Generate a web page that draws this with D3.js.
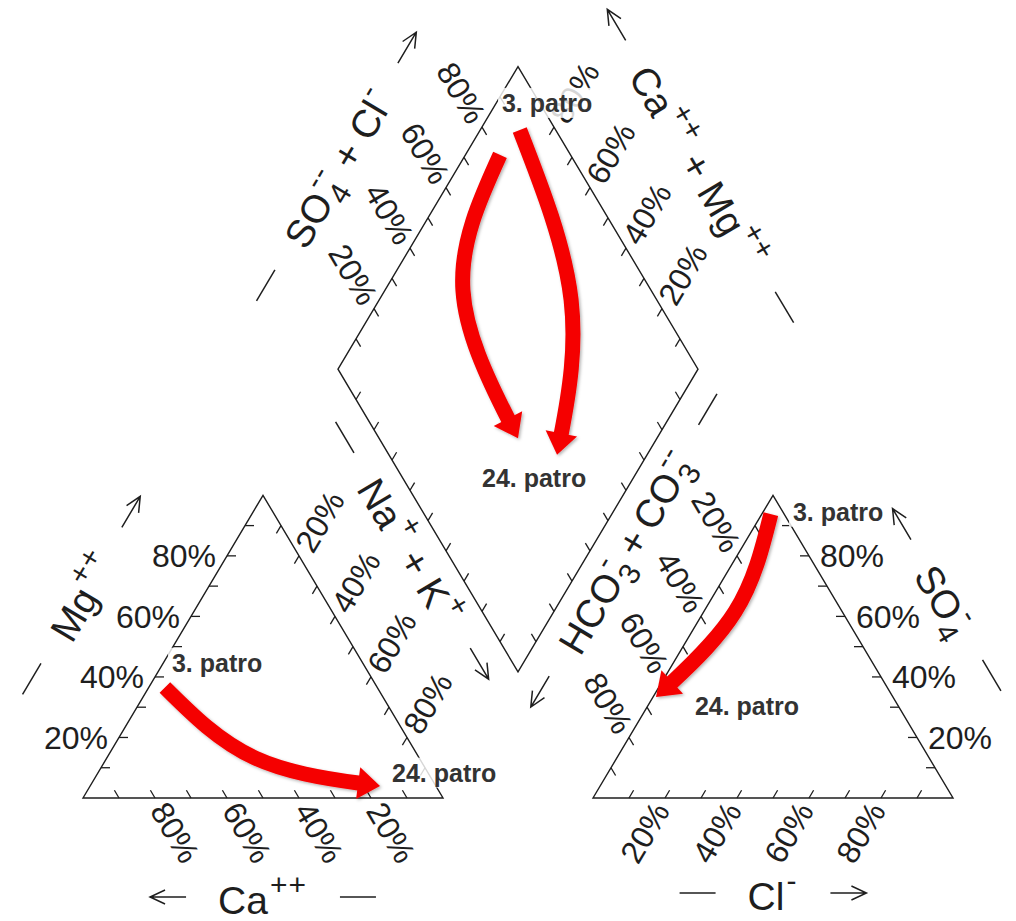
<!DOCTYPE html>
<html>
<head>
<meta charset="utf-8">
<script src="https://cdn.jsdelivr.net/npm/d3@7"></script>
<style>
  html, body { margin: 0; padding: 0; background: #fff; }
  svg { display: block; }
  text { font-family: "Liberation Sans", Arial, sans-serif; }
</style>
</head>
<body>
<svg id="chart" width="1016" height="921"></svg>
<script>
// ---- Data -------------------------------------------------------------
// Grid ticks every 10 %, labelled every 20 %
const tickValues = [10, 20, 30, 40, 50, 60, 70, 80, 90];
const labelValues = [20, 40, 60, 80];
const tickLabels = ["20%", "40%", "60%", "80%"];

// Sampling points
const samples = ["3. patro", "24. patro"];

// Label anchors (percent) in each field
const cationLabelMg = [44.6, 8.3];
const cationLabelNaK = [2.4, 81.7];
const anionLabelSO4 = [94.5, 30.4];
const anionLabelCl = [8.3, 13.1];
const diamondLabelNaK = [1.6, 58.0];
const diamondLabelSO4Cl = [89.5, 22.0];

// Change between the floors: tail, bend, head (percent)
const cationArrowMg = [36.5, 13.2, 4.0];
const cationArrowNaK = [4.5, 41.2, 80.5];
const anionArrowSO4 = [93.8, 61.5, 33.4];
const anionArrowCl = [2.5, 8.7, 0.8];
const diamondArrowNaK = [[9.6, 21.6, 61.4], [11.0, 53.3, 75.0]];
const diamondArrowSO4Cl = [[80.4, 47.8, 38.6], [90.0, 76.2, 46.7]];

// Axis titles: plain text, superscripts and stacked sub/superscripts
const NB = "\u00a0";
const titleMg = [{ t: "Mg" }, { sup: "++" }];
const titleCa = [{ t: "Ca" }, { sup: "++" }];
const titleNaK = [{ t: "Na" }, { sup: "+" }, { t: NB + "+" + NB + "K" }, { sup: "+" }];
const titleHCO3 = [{ t: "HCO" }, { sub: "3", sup: "-" }, { t: "\u2009+\u2009CO" }, { sub: "3", sup: "--" }];
const titleCl = [{ t: "Cl" }, { sup: "-" }];
const titleSO4 = [{ t: "SO" }, { sub: "4", sup: "-" }];
const titleSO4Cl = [{ t: "SO" }, { sub: "4", sup: "--" }, { t: NB + "+" + NB + "Cl" }, { sup: "-" }];
const titleCaMg = [{ t: "Ca" }, { sup: "++" }, { t: NB + "+" + NB + "Mg" }, { sup: "++" }];

// ---- Layout -----------------------------------------------------------
const S3 = Math.sqrt(3) / 2;
const side = 360, originX = 83, originY = 798, vScale = 349.5 / 360, GAP = 150 / 360;
const ink = "#1e1e1e";

const svg = d3.select("#chart");
const x = d3.scaleLinear().domain([0, 2 + GAP]).range([originX, originX + (2 + GAP) * side]);
const y = d3.scaleLinear().domain([0, 1]).range([originY, originY - side * vScale]);

// ternary / diamond projections into plot units
const cation = (mg, nak) => [nak / 100 + mg / 200, mg / 100 * S3];
const anion = (so4, cl) => [1 + GAP + cl / 100 + so4 / 200, so4 / 100 * S3];
const diamond = (nak, sc) => {
  const a = sc / 100, c = 1 - nak / 100;
  return [1 + GAP / 2 + (a - c) / 2, GAP * S3 + (a + c) * S3];
};
const px = p => [x(p[0]), y(p[1])];
const dirPx = d => {
  const vx = x(d[0]) - x(0), vy = y(d[1]) - y(0), n = Math.hypot(vx, vy);
  return [vx / n, vy / n];
};

const defs = svg.append("defs");
defs.append("filter").attr("id", "shadow")
  .attr("x", "-30%").attr("y", "-30%").attr("width", "160%").attr("height", "160%")
  .append("feDropShadow")
  .attr("dx", 1.5).attr("dy", 1.5).attr("stdDeviation", 1.4)
  .attr("flood-color", "#000").attr("flood-opacity", 0.3);

// ---- Outlines -----------------------------------------------------------
const outline = d3.line().x(d => px(d)[0]).y(d => px(d)[1]);
const shapes = [
  [cation(0, 0), cation(100, 0), cation(0, 100)],
  [anion(0, 0), anion(100, 0), anion(0, 100)],
  [diamond(0, 0), diamond(0, 100), diamond(100, 100), diamond(100, 0)]
];
svg.append("g").selectAll("path").data(shapes).join("path")
  .attr("d", d => outline(d) + "Z")
  .attr("fill", "none").attr("stroke", ink).attr("stroke-width", 1.4)
  .attr("stroke-linejoin", "miter");

// ---- Ticks and percent labels --------------------------------------------
const axes = [
  { at: t => cation(t, 0), inward: [1, 0], out: [-1, 0] },                 // Mg
  { at: t => cation(0, 100 - t), inward: [-0.5, S3], out: [0.5, -S3] },    // Ca
  { at: t => cation(100 - t, t), inward: [-0.5, -S3], out: [0.5, S3] },    // Na + K
  { at: t => anion(100 - t, 0), inward: [0.5, -S3], out: [-0.5, S3] },     // HCO3 + CO3
  { at: t => anion(0, t), inward: [0.5, S3], out: [-0.5, -S3] },           // Cl
  { at: t => anion(t, 100 - t), inward: [-1, 0], out: [1, 0] },            // SO4
  { at: t => diamond(0, t), inward: [0.5, -S3], out: [-0.5, S3] },         // SO4 + Cl
  { at: t => diamond(100 - t, 100), inward: [-0.5, -S3], out: [0.5, S3] }, // Ca + Mg
  { at: t => diamond(t, 0), inward: [0.5, S3] },
  { at: t => diamond(100, 100 - t), inward: [-0.5, S3] }
];
const tickLen = 9;
const tickG = svg.append("g");
const labelG = svg.append("g").attr("fill", ink).attr("font-size", 32);
axes.forEach(ax => {
  const d = dirPx(ax.inward);
  tickG.selectAll(null).data(tickValues).join("line")
    .attr("x1", v => px(ax.at(v))[0]).attr("y1", v => px(ax.at(v))[1])
    .attr("x2", v => px(ax.at(v))[0] + d[0] * tickLen)
    .attr("y2", v => px(ax.at(v))[1] + d[1] * tickLen)
    .attr("stroke", ink).attr("stroke-width", 1.3);
  if (!ax.out) return;
  const o = dirPx(ax.out);
  const back = o[0] < -1e-6;
  const ang = back ? Math.atan2(-o[1], -o[0]) * 180 / Math.PI : Math.atan2(o[1], o[0]) * 180 / Math.PI;
  const off = Math.abs(o[1]) < 1e-6 ? 11 : 8;
  labelG.selectAll(null).data(labelValues).join("text")
    .attr("transform", (v) => {
      const p = px(ax.at(v));
      return `translate(${p[0] + o[0] * off},${p[1] + o[1] * off}) rotate(${ang})`;
    })
    .attr("dy", "0.36em")
    .attr("text-anchor", back ? "end" : "start")
    .text((v, i) => tickLabels[i]);
});

// ---- Axis titles -----------------------------------------------------------
function drawDeco(g, kind, x0, x1) {
  const el = g.append("path")
    .attr("stroke", ink).attr("stroke-width", 1.5).attr("fill", "none");
  if (kind === "dash") {
    el.attr("d", `M${x0},0H${x1}`);
  } else if (kind === "fwd") {
    el.attr("d", `M${x0},0H${x1}M${x1 - 15},-7L${x1},0L${x1 - 15},7`);
  } else {
    el.attr("d", `M${x1},0H${x0}M${x0 + 15},-7L${x0},0L${x0 + 15},7`);
  }
}

function drawTitle(parts, anchor, angle, startDeco, endDeco) {
  const g = svg.append("g")
    .attr("transform", `translate(${anchor[0]},${anchor[1]}) rotate(${angle})`);
  const txt = g.append("g").attr("fill", ink);
  let cx = 0;
  parts.forEach(p => {
    if (p.t) {
      const el = txt.append("text").attr("x", cx).attr("y", 0).attr("font-size", 39).text(p.t);
      cx += el.node().getComputedTextLength();
    } else {
      let w = 0;
      if (p.sub) {
        const el = txt.append("text").attr("x", cx + 2).attr("y", 10).attr("font-size", 30).text(p.sub);
        w = Math.max(w, el.node().getComputedTextLength() + 3);
      }
      if (p.sup) {
        const el = txt.append("text").attr("x", cx + 2).attr("y", -19).attr("font-size", 30)
          .attr("letter-spacing", 1).text(p.sup);
        w = Math.max(w, el.node().getComputedTextLength() + 3);
      }
      cx += w;
    }
  });
  const decoLen = 36, gap = 32;
  const total = 2 * decoLen + 2 * gap + cx;
  const x0 = -total / 2;
  txt.attr("transform", `translate(${x0 + decoLen + gap},17)`);
  drawDeco(g, startDeco, x0, x0 + decoLen);
  drawDeco(g, endDeco, x0 + total - decoLen, x0 + total);
}

function placeTitle(parts, mid, normal, offset, read, shift, startDeco, endDeco) {
  const p = px(mid), n = dirPx(normal), r = dirPx(read);
  const anchor = [p[0] + n[0] * offset + r[0] * shift, p[1] + n[1] * offset + r[1] * shift];
  drawTitle(parts, anchor, Math.atan2(r[1], r[0]) * 180 / Math.PI, startDeco, endDeco);
}

placeTitle(titleMg, cation(50, 0), [-S3, 0.5], 105, [0.5, S3], 0, "dash", "fwd");
placeTitle(titleCa, cation(0, 50), [0, -1], 99, [1, 0], 0, "back", "dash");
placeTitle(titleNaK, cation(50, 50), [S3, 0.5], 100, [0.5, -S3], -55, "dash", "fwd");
placeTitle(titleHCO3, anion(50, 0), [-S3, 0.5], 100, [0.5, S3], 55, "back", "dash");
placeTitle(titleCl, anion(0, 50), [0, -1], 95, [1, 0], 0, "dash", "fwd");
placeTitle(titleSO4, anion(50, 50), [S3, 0.5], 96, [0.5, -S3], 0, "back", "dash");
placeTitle(titleSO4Cl, diamond(0, 50), [-S3, 0.5], 105, [0.5, S3], 0, "dash", "fwd");
placeTitle(titleCaMg, diamond(50, 100), [S3, 0.5], 106, [0.5, -S3], 0, "back", "dash");

// ---- Sample labels -----------------------------------------------------------
const labelLayer = svg.append("g");
function sampleLabel(name, p) {
  const g = labelLayer.append("g");
  const t = g.append("text").attr("x", p[0]).attr("y", p[1]).attr("dy", "0.35em")
    .attr("font-size", 25).attr("font-weight", "bold").attr("fill", "#333").text(name);
  const b = t.node().getBBox();
  g.insert("rect", "text")
    .attr("x", b.x - 4).attr("y", b.y - 1).attr("width", b.width + 8).attr("height", b.height + 2)
    .attr("fill", "#fff").attr("fill-opacity", 0.82);
}
samples.forEach((s, i) => {
  sampleLabel(s, px(cation(cationLabelMg[i], cationLabelNaK[i])));
  sampleLabel(s, px(anion(anionLabelSO4[i], anionLabelCl[i])));
  sampleLabel(s, px(diamond(diamondLabelNaK[i], diamondLabelSO4Cl[i])));
});

// ---- Red trend arrows ------------------------------------------------------
const arrowLayer = svg.append("g").attr("filter", "url(#shadow)");
const curve = d3.line().curve(d3.curveNatural);
const red = "#f50000";
function trendArrow(points) {
  const pts = points.map(px);
  const path = arrowLayer.append("path").attr("d", curve(pts))
    .attr("fill", "none").attr("stroke", red).attr("stroke-width", 15)
    .attr("stroke-linecap", "butt");
  const node = path.node();
  const L = node.getTotalLength();
  const headLen = 22, headHalf = 16;
  path.attr("stroke-dasharray", `${L - headLen + 2} ${L + 20}`);
  const tip = node.getPointAtLength(L);
  const base = node.getPointAtLength(L - headLen);
  const dx = tip.x - base.x, dy = tip.y - base.y, n = Math.hypot(dx, dy);
  const ux = dx / n, uy = dy / n;
  const bx = tip.x - ux * headLen, by = tip.y - uy * headLen;
  arrowLayer.append("path")
    .attr("d", `M${tip.x},${tip.y}L${bx - uy * headHalf},${by + ux * headHalf}L${bx + uy * headHalf},${by - ux * headHalf}Z`)
    .attr("fill", red);
}
trendArrow(cationArrowMg.map((m, i) => cation(m, cationArrowNaK[i])));
trendArrow(anionArrowSO4.map((s, i) => anion(s, anionArrowCl[i])));
diamondArrowNaK.forEach((row, k) =>
  trendArrow(row.map((n, i) => diamond(n, diamondArrowSO4Cl[k][i]))));
</script>
</body>
</html>
